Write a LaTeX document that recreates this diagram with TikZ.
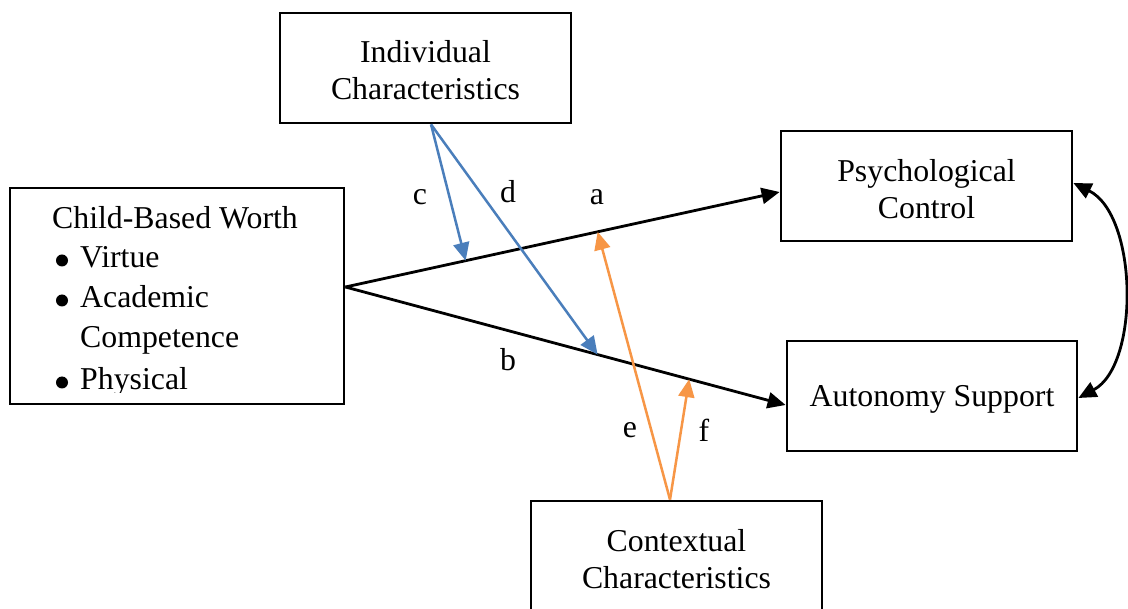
\documentclass[tikz,border=0pt]{standalone}
\usepackage{fontspec}
\setmainfont{Liberation Serif}
\usetikzlibrary{arrows.meta,calc}
\definecolor{lineblue}{HTML}{4A7EBB}
\definecolor{lineorange}{HTML}{F79646}
\tikzset{
  box/.style={draw=black, line width=2.8pt, rectangle, inner sep=0pt},
  txt/.style={font=\fontsize{31.8}{37}\selectfont, align=center, inner sep=0pt},
  lbl/.style={font=\fontsize{31.8}{37}\selectfont, inner sep=0pt},
  bulletdot/.style={circle, fill=black, inner sep=0pt, minimum size=12pt},
  tip/.style={-{Triangle[length=18pt,width=16pt]}},
  mainpath/.style={tip, draw=black, line width=2.8pt},
  bluepath/.style={tip, draw=lineblue, line width=2.5pt},
  orangepath/.style={tip, draw=lineorange, line width=2.5pt},
}
\begin{document}
\begin{tikzpicture}[x=1pt,y=-1pt]
\clip (0,0) rectangle (1128,609);
\fill[white] (0,0) rectangle (1128,609);
% boxes
\node[box, minimum width=291pt, minimum height=110pt] (ic) at (425.5,68) {};
\node[txt] (ict) at (425.5,70.5) {Individual\\Characteristics};
\node[box, minimum width=291pt, minimum height=110pt] (pc) at (926.5,186) {};
\node[txt] (pct) at (926.5,189) {Psychological\\Control};
\node[box, minimum width=290pt, minimum height=110pt] (as) at (932,396) {};
\node[txt] (ast) at (932,399) {Autonomy Support};
\node[box, minimum width=291pt, minimum height=130pt] (cc) at (676.5,566) {};
\node[txt] (cct) at (676.5,559) {Contextual\\Characteristics};
\node[box, minimum width=334pt, minimum height=216pt] (cb) at (177,296) {};
\begin{scope}
\clip (10,188) rectangle (344,393);
\node[lbl, anchor=base west] (cb0) at (52,229) {Child-Based Worth};
\node[bulletdot] (bu1) at (62,260.5) {};
\node[lbl, anchor=base west] (cb1) at (80,268) {Virtue};
\node[bulletdot] (bu2) at (62,300.5) {};
\node[lbl, anchor=base west] (cb2) at (80,308) {Academic};
\node[lbl, anchor=base west] (cb3) at (80,348) {Competence};
\node[bulletdot] (bu3) at (62,382.5) {};
\node[lbl, anchor=base west] (cb4) at (80,390) {Physical};
\end{scope}
% coordinates
\coordinate (O) at ([yshift=9pt]cb.east);
\coordinate (aend) at ([yshift=-6pt]pc.west);
\coordinate (bend) at ([yshift=-9pt]as.west);
\coordinate (ctgt) at ($(O)!0.277!(aend)$);
\coordinate (etgt) at ($(O)!0.581!(aend)$);
\coordinate (dtgt) at ($(O)!0.573!(bend)$);
\coordinate (ftgt) at ($(O)!0.781!(bend)$);
\coordinate (isrc) at ([xshift=5.5pt]ic.south);
\coordinate (csrc) at ([xshift=-6.5pt]cc.north);
% main paths
\draw[mainpath] (O) -- (aend);
\draw[mainpath] (O) -- (bend);
\draw[bluepath] (isrc) -- (ctgt);
\draw[bluepath] (isrc) -- (dtgt);
\draw[orangepath] (csrc) -- (etgt);
\draw[orangepath] (csrc) -- (ftgt);
\draw[{Triangle[length=18pt,width=16pt]}-{Triangle[length=18pt,width=16pt]}, line width=2.8pt]
  ([yshift=3pt]pc.east) .. controls (1138,215) and (1140,365) .. ([yshift=-2pt]as.east);
% labels
\node[lbl] (la) at (597,197) {a};
\node[lbl] (lb) at (508,360) {b};
\node[lbl] (lc) at (420,197) {c};
\node[lbl] (ld) at (508,192) {d};
\node[lbl] (le) at (630,430) {e};
\node[lbl] (lf) at (704,430) {f};
\end{tikzpicture}
\end{document}
